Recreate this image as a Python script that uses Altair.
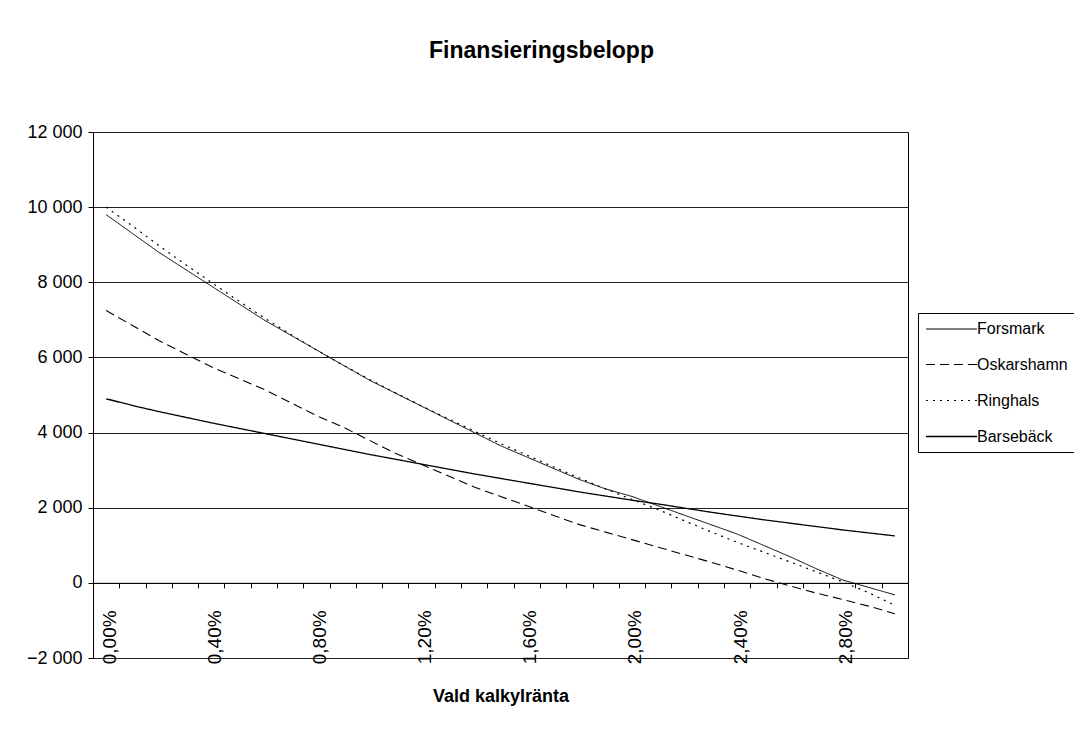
import altair as alt
import pandas as pd

rates = ["0,00%", "0,10%", "0,20%", "0,30%", "0,40%", "0,50%", "0,60%", "0,70%",
         "0,80%", "0,90%", "1,00%", "1,10%", "1,20%", "1,30%", "1,40%", "1,50%",
         "1,60%", "1,70%", "1,80%", "1,90%", "2,00%", "2,10%", "2,20%", "2,30%",
         "2,40%", "2,50%", "2,60%", "2,70%", "2,80%", "2,90%", "3,00%"]
shown_labels = ["0,00%", "0,40%", "0,80%", "1,20%", "1,60%", "2,00%", "2,40%", "2,80%"]
series_names = ["Forsmark", "Oskarshamn", "Ringhals", "Barsebäck"]

forsmark = [9800, 9300, 8800, 8350, 7900, 7450, 7000, 6600, 6200, 5800, 5400,
            5050, 4700, 4350, 4000, 3650, 3350, 3050, 2750, 2500, 2300, 2050,
            1800, 1550, 1300, 1000, 700, 380, 80, -120, -320]
oskarshamn = [7250, 6850, 6450, 6100, 5750, 5450, 5150, 4800, 4450, 4150, 3800,
              3450, 3150, 2850, 2550, 2300, 2050, 1800, 1550, 1350, 1150, 950,
              750, 550, 340, 120, -80, -270, -440, -620, -820]
ringhals = [10000, 9500, 8980, 8480, 8000, 7520, 7060, 6620, 6200, 5800, 5420,
            5060, 4710, 4370, 4040, 3710, 3400, 3090, 2790, 2500, 2220, 1950,
            1650, 1360, 1080, 820, 560, 300, 30, -260, -600]
barseback = [4900, 4720, 4560, 4410, 4260, 4120, 3980, 3840, 3700, 3560, 3420,
             3290, 3160, 3030, 2900, 2780, 2660, 2540, 2420, 2310, 2200, 2100,
             1990, 1880, 1780, 1680, 1590, 1500, 1410, 1330, 1250]

y_ticks = [-2000, 0, 2000, 4000, 6000, 8000, 10000, 12000]

rows = []
for name, vals in zip(series_names, [forsmark, oskarshamn, ringhals, barseback]):
    for r, v in zip(rates, vals):
        rows.append({"rate": r, "series": name, "value": v})
df = pd.DataFrame(rows)

FONT = "'Liberation Sans', Arial, sans-serif"
W, H = 815, 526
zero_offset = -(H * 2000 / 14000)

shown_js = "[" + ",".join("'" + s + "'" for s in shown_labels) + "]"

legend_common = dict(title=None, orient="none", legendX=825, legendY=181,
                     strokeColor="black", fillColor="white", padding=7,
                     rowPadding=18, symbolType="M-1,0H5", symbolSize=289,
                     symbolStrokeColor="black", labelFont=FONT, labelFontSize=16,
                     labelColor="black", labelLimit=300, labelOffset=33,
                     cornerRadius=0)

chart = alt.Chart(df).mark_line(color="black", clip=False).encode(
    x=alt.X("rate:O", sort=rates,
            scale=alt.Scale(type="band", paddingInner=0, paddingOuter=0),
            axis=alt.Axis(title="Vald kalkylränta", offset=zero_offset,
                          tickBand="extent", tickSize=5, tickColor="black",
                          domainColor="black", labelAngle=270,
                          labelAlign="right", labelBaseline="middle",
                          labelPadding=22, labelOverlap=False, labelOffset=3,
                          labelExpr="indexof(" + shown_js + ", datum.label) >= 0 ? datum.label : ''",
                          labelFont=FONT, labelFontSize=19, labelColor="black",
                          titleFont=FONT, titleFontSize=18, titleFontWeight="bold",
                          titleColor="black", titleY=119, titleBaseline="alphabetic",
                          grid=False)),
    y=alt.Y("value:Q",
            scale=alt.Scale(domain=[-2000, 12000], nice=False, zero=False),
            axis=alt.Axis(title=None, values=y_ticks, grid=True, gridColor="#222",
                          gridWidth=1, tickSize=5, tickColor="black",
                          domainColor="black", labelPadding=6,
                          labelExpr="replace(format(datum.value, ','), ',', ' ')",
                          labelFont=FONT, labelFontSize=18, labelColor="black")),
    strokeDash=alt.StrokeDash("series:N",
                              scale=alt.Scale(domain=series_names,
                                              range=[[1, 0], [9, 5], [2, 5], [1, 0]]),
                              legend=alt.Legend(**legend_common)),
    strokeWidth=alt.StrokeWidth("series:N",
                                scale=alt.Scale(domain=series_names,
                                                range=[1.0, 1.3, 1.6, 1.8]),
                                legend=alt.Legend(**legend_common)),
).properties(
    width=W, height=H,
    background="white",
    title=alt.TitleParams("Finansieringsbelopp", font=FONT, fontSize=23,
                          fontWeight="bold", color="black", anchor="middle",
                          frame="group", dx=41, offset=60),
    padding={"left": 85, "top": 124, "right": 166, "bottom": 67},
    autosize=alt.AutoSizeParams(type="none"),
).configure_view(
    stroke="black", strokeWidth=1
)

chart.save("out.html", embed_options={"renderer": "svg", "actions": False})
